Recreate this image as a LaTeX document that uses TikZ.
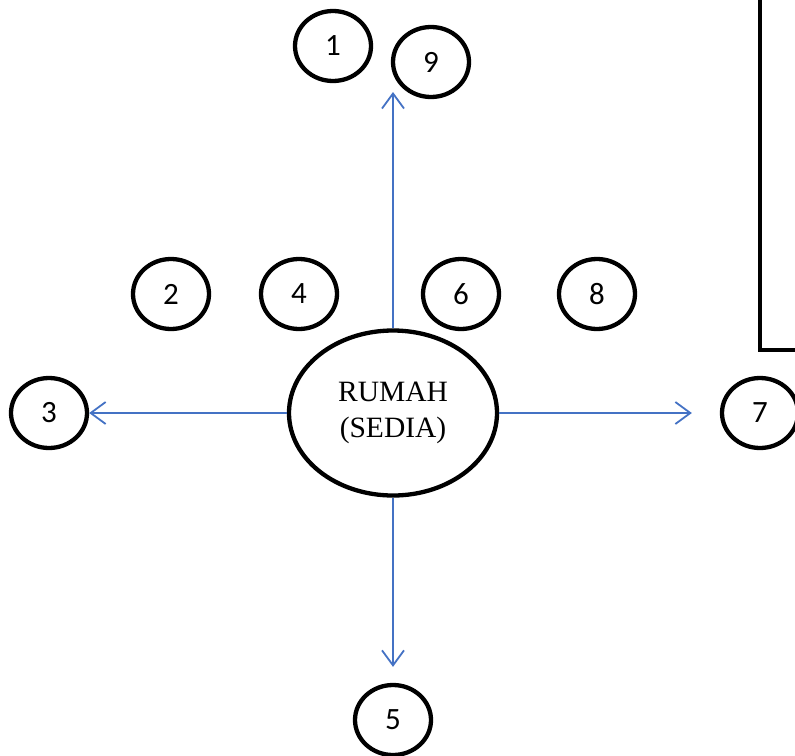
\documentclass[tikz,border=0pt]{standalone}
\usepackage{fontspec}
\setmainfont{Liberation Serif}
\newfontfamily\numfont{Carlito}
\usepackage{tikz}
\usetikzlibrary{arrows.meta,shapes,positioning,calc}

\definecolor{arrowBlue}{HTML}{4472C4}

\begin{document}
\begin{tikzpicture}[->,>={Straight Barb[length=15pt,width=22pt,line width=1.8pt]},x=1pt,y=-1pt,on grid]

\useasboundingbox (0,0) rectangle (795,755);

\tikzset{
	numCell/.style={
		ellipse,
		draw,
		line width=4.3pt,
		minimum width=76pt,
		minimum height=70pt,
		inner sep=0pt,
		font=\numfont\fontsize{31}{36}\selectfont
	}
}

\tikzset{
	homeCell/.style={
		ellipse,
		draw,
		line width=4.3pt,
		minimum width=208pt,
		minimum height=165pt,
		inner sep=0pt,
		align=center,
		font=\fontsize{29.5}{36}\selectfont
	}
}

\tikzset{
	moveLine/.style={
		draw=arrowBlue,
		line width=1.8pt
	}
}

\node[homeCell](Rumah) at (393,413) {RUMAH\\(SEDIA)};

\node[numCell](One) [above left=367pt and 60pt of Rumah] {1};
\node[numCell](Nine) [above right=351pt and 38pt of Rumah] {9};

\node[numCell](Two) [above left=119pt and 222pt of Rumah] {2};
\node[numCell](Four) [above left=119pt and 94pt of Rumah] {4};
\node[numCell](Six) [above right=119pt and 68pt of Rumah] {6};
\node[numCell](Eight) [above right=119pt and 204pt of Rumah] {8};

\node[numCell](Three) [left=344pt of Rumah] {3};
\node[numCell](Seven) [right=367pt of Rumah] {7};
\node[numCell](Five) [below=307pt of Rumah] {5};

\coordinate (UpEnd) at (393,92);

\path[moveLine] (Rumah) edge (UpEnd);
\path[moveLine] (Rumah) edge (Three);
\path[moveLine] (Rumah) edge[shorten >=28pt] (Seven);
\path[moveLine] (Rumah) edge[shorten >=16pt] (Five);

% box at the top right
\draw[-,line width=4.3pt] (760,-10) -- (760,350) -- (805,350);

\end{tikzpicture}
\end{document}
